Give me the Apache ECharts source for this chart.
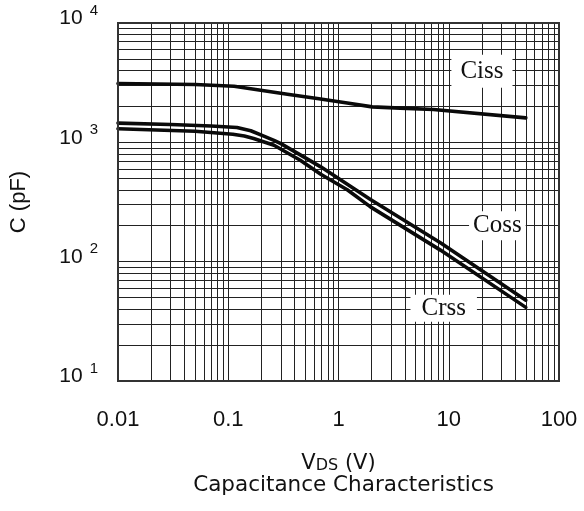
<!DOCTYPE html>
<html>
<head>
<meta charset="utf-8">
<script src="https://cdn.jsdelivr.net/npm/echarts@6/dist/echarts.min.js"></script>
<style>
html,body{margin:0;padding:0;background:#fff;}
#chart{width:584px;height:511px;}
</style>
</head>
<body>
<div id="chart"></div>
<script>
// ---- data (VDS in V, capacitance in pF) ----
var cissData = [[0.01,3110],[0.05,3050],[0.113,2950],[0.197,2735],[0.344,2533],[0.641,2330],[1.2,2138],[2.02,1983],[3.63,1935],[7.26,1884],[50,1603]];
var cossData = [[0.01,1450],[0.03,1410],[0.07,1370],[0.12,1330],[0.16,1250],[0.2,1150],[0.26,1040],[0.3,975],[0.45,785],[0.69,623],[1.95,332],[8.4,144],[50,47.6]];
var crssData = [[0.01,1300],[0.05,1240],[0.11,1170],[0.14,1130],[0.17,1077],[0.26,946],[0.45,708],[0.69,540],[1.2,400],[1.95,288],[8.4,125],[50,41.4]];
var seriesNames = ['Ciss','Coss','Crss'];
var labelAnchors = [[20,3950],[27.6,200],[9.0,40.8]];
var xTickLabels = ['0.01','0.1','1','10','100'];
var yTickExponents = ['1','2','3','4'];
var xDecades = [0.01,0.1,1,10];
var yDecades = [10,100,1000];
var minorMultipliers = [2,3,4,5,6,7,8,9];

var minorLines = [];
xDecades.forEach(function(d){ minorMultipliers.forEach(function(m){ minorLines.push({xAxis: +(d*m).toPrecision(3)}); }); });
yDecades.forEach(function(d){ minorMultipliers.forEach(function(m){ minorLines.push({yAxis: +(d*m).toPrecision(3)}); }); });

var gridColor = '#222';
var txt = '#111';
var chart = echarts.init(document.getElementById('chart'), null, {renderer:'canvas'});

function curve(name, data, anchor, pad){
  return {
    name: name, type: 'line', data: data, smooth: false, showSymbol: false, symbol: 'none', z: 5,
    lineStyle: {color: '#0a0a0a', width: 3.6, join: 'round', cap: 'round'},
    markPoint: {
      silent: true, symbol: 'circle', symbolSize: 1, itemStyle: {color: 'rgba(0,0,0,0)'},
      label: {show: true, position: 'inside', formatter: name, backgroundColor: '#fff',
              padding: pad, fontFamily: 'Liberation Serif', fontSize: 25, color: txt},
      data: [{coord: anchor}]
    }
  };
}

chart.setOption({
  animation: false,
  backgroundColor: '#fff',
  grid: {left: 117, right: 25, top: 23, bottom: 130, show: true, borderColor: '#333', borderWidth: 2, z: 10},
  xAxis: {
    type: 'log', logBase: 10, min: 0.01, max: 100,
    axisLine: {show: false}, axisTick: {show: false},
    splitLine: {show: true, lineStyle: {color: gridColor, width: 1}},
    axisLabel: {margin: 28, fontFamily: 'Liberation Sans', fontSize: 22, color: txt,
      formatter: function(v){ var i = Math.round(Math.log10(v)) + 2; return xTickLabels[i]; }},
    name: '{v|V}{s|DS}{v| (V)}\n{t|Capacitance Characteristics}',
    nameLocation: 'middle', nameGap: 71,
    nameTextStyle: {color: txt, lineHeight: 22, rich: {
      v: {fontFamily: 'DejaVu Sans', fontSize: 21, color: txt, lineHeight: 22, verticalAlign: 'bottom'},
      s: {fontFamily: 'DejaVu Sans', fontSize: 16, color: txt, lineHeight: 22, verticalAlign: 'bottom'},
      t: {fontFamily: 'DejaVu Sans', fontSize: 21.5, color: txt, lineHeight: 22, padding: [0,0,0,10]}
    }}
  },
  yAxis: {
    type: 'log', logBase: 10, min: 10, max: 10000,
    axisLine: {show: false}, axisTick: {show: false},
    splitLine: {show: true, lineStyle: {color: gridColor, width: 1}},
    axisLabel: {margin: 20, color: txt, padding: [0,0,14,0],
      formatter: function(v){ var e = Math.round(Math.log10(v)); return '{b|10}{sup|' + yTickExponents[e-1] + '}'; },
      rich: {
        b: {fontFamily: 'Liberation Sans', fontSize: 21, color: txt, padding: [5,0,0,0]},
        sup: {fontFamily: 'Liberation Sans', fontSize: 15, color: txt, verticalAlign: 'top', padding: [0,0,0,7]}
      }},
    name: 'C (pF)', nameLocation: 'middle', nameRotate: 90, nameGap: 88,
    nameTextStyle: {fontFamily: 'Liberation Sans', fontSize: 22, color: txt}
  },
  series: [
    {type: 'line', data: [], z: 1, silent: true,
     markLine: {silent: true, symbol: ['none','none'], label: {show: false}, animation: false,
       lineStyle: {color: gridColor, width: 1, type: 'solid'}, emphasis: {disabled: true},
       data: minorLines}},
    curve(seriesNames[0], cissData, labelAnchors[0], [4,9,4,9]),
    curve(seriesNames[1], cossData, labelAnchors[1], [2,4,2,4]),
    curve(seriesNames[2], crssData, labelAnchors[2], [1,11,1,11])
  ]
});
</script>
</body>
</html>
